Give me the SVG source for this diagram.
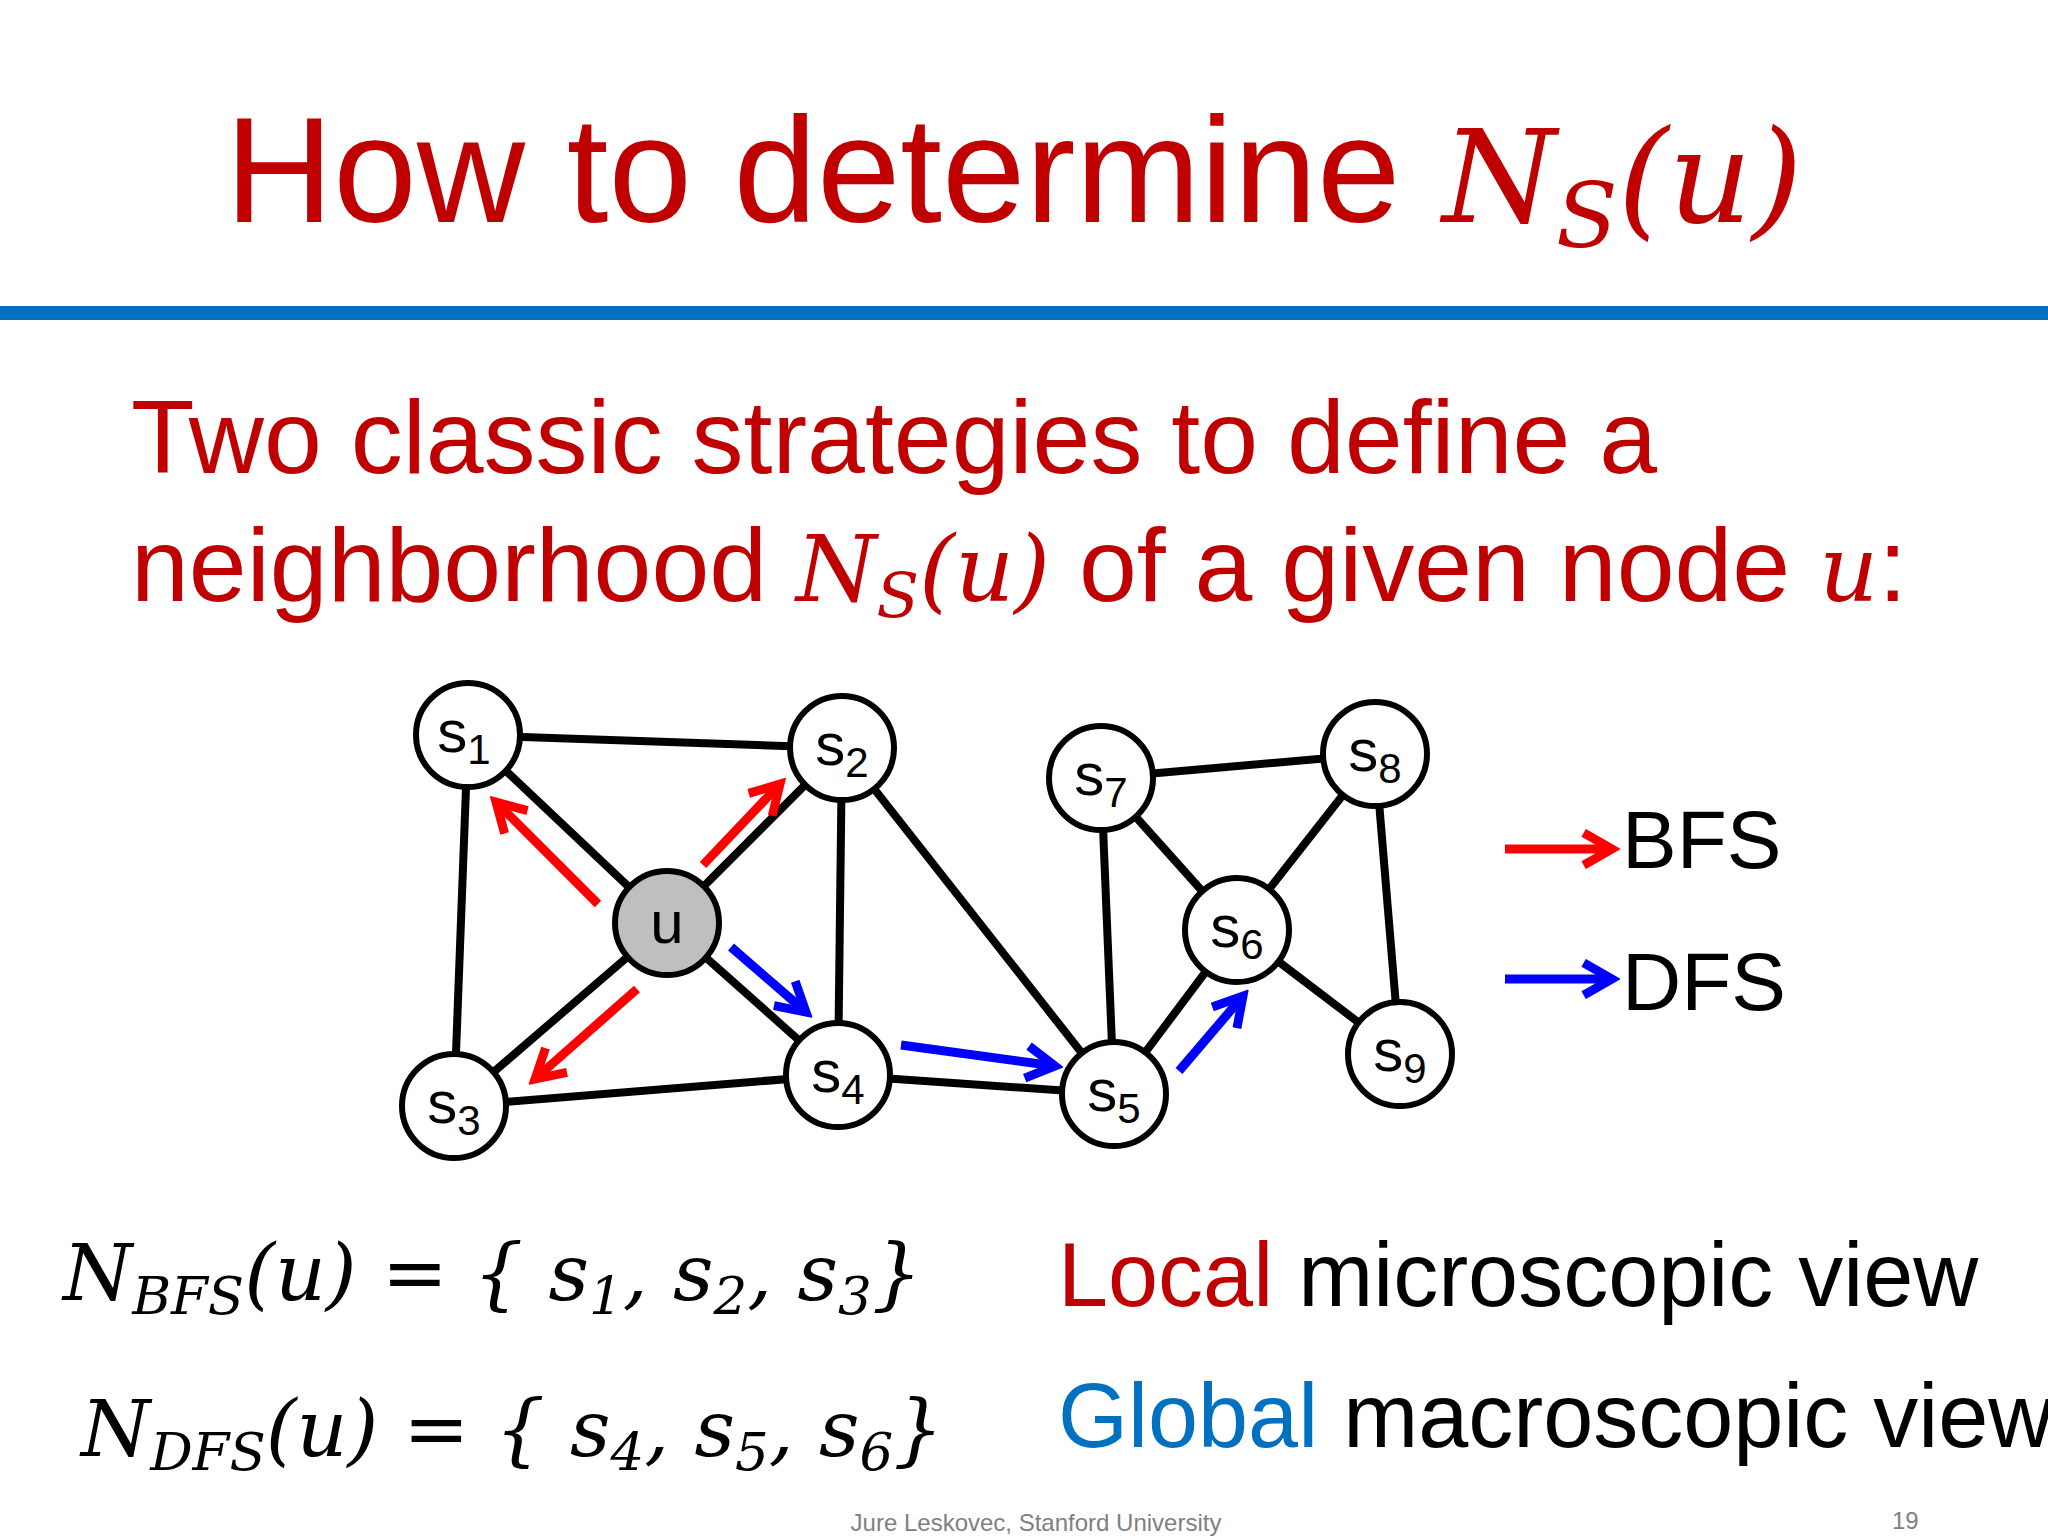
<svg xmlns="http://www.w3.org/2000/svg" width="2048" height="1536" viewBox="0 0 2048 1536">
<defs>
<style>
.t{font-family:"Liberation Sans",Arial,sans-serif}
.m{font-family:"DejaVu Serif","Liberation Serif",serif;font-style:italic}
.e line{stroke:#000;stroke-width:8}
.n circle{fill:#fff;stroke:#000;stroke-width:6}
.n text{font-family:"Liberation Sans",Arial,sans-serif;font-size:60px;text-anchor:middle}
.r{stroke:#f00;stroke-width:9;fill:none}
.b{stroke:#00f;stroke-width:9;fill:none}
</style>
<marker id="mr" viewBox="0 0 10 10" refX="8" refY="5" markerWidth="4.5" markerHeight="4.5" orient="auto" markerUnits="strokeWidth"><polyline points="1,1 8,5 1,9" fill="none" stroke="#f00" stroke-width="2.2"/></marker>
<marker id="mb" viewBox="0 0 10 10" refX="8" refY="5" markerWidth="4.5" markerHeight="4.5" orient="auto" markerUnits="strokeWidth"><polyline points="1,1 8,5 1,9" fill="none" stroke="#00f" stroke-width="2.2"/></marker>
</defs>
<rect width="2048" height="1536" fill="#fff"/>
<text class="t" x="225" y="222" font-size="150" fill="#c00000">How to determine <tspan class="m" font-size="130">N</tspan><tspan class="m" font-size="90" dy="25">S</tspan><tspan class="m" font-size="130" dy="-25">(u)</tspan></text>
<rect x="0" y="306" width="2048" height="14" fill="#0070c0"/>
<text class="t" x="131" y="473" font-size="104" fill="#c00000">Two classic strategies to define a</text>
<text class="t" x="131" y="601" font-size="104" fill="#c00000">neighborhood <tspan class="m" font-size="92">N</tspan><tspan class="m" font-size="62" dy="16">S</tspan><tspan class="m" font-size="92" dy="-16">(u)</tspan> of a given node <tspan class="m" font-size="92">u</tspan>:</text>
<g id="edges" class="e">
<line x1="468" y1="735" x2="842" y2="748"/><line x1="468" y1="735" x2="667" y2="923"/><line x1="468" y1="735" x2="454" y2="1106"/>
<line x1="667" y1="923" x2="842" y2="748"/><line x1="667" y1="923" x2="454" y2="1106"/><line x1="667" y1="923" x2="838" y2="1075"/>
<line x1="842" y1="748" x2="838" y2="1075"/><line x1="842" y1="748" x2="1114" y2="1094"/><line x1="454" y1="1106" x2="838" y2="1075"/>
<line x1="838" y1="1075" x2="1114" y2="1094"/><line x1="1101" y1="778" x2="1375" y2="754"/><line x1="1101" y1="778" x2="1237" y2="930"/>
<line x1="1101" y1="778" x2="1114" y2="1094"/><line x1="1375" y1="754" x2="1237" y2="930"/><line x1="1375" y1="754" x2="1400" y2="1054"/>
<line x1="1237" y1="930" x2="1114" y2="1094"/><line x1="1237" y1="930" x2="1400" y2="1054"/>
</g>
<g id="s1" class="n"><circle cx="468" cy="735" r="52"/><text x="464" y="752">s<tspan font-size="42" dy="12">1</tspan></text></g>
<g id="s2" class="n"><circle cx="842" cy="748" r="52"/><text x="842" y="765">s<tspan font-size="42" dy="12">2</tspan></text></g>
<g id="u" class="n"><circle cx="667" cy="923" r="52" style="fill:#bfbfbf"/><text x="667" y="943">u</text></g>
<g id="s3" class="n"><circle cx="454" cy="1106" r="52"/><text x="454" y="1123">s<tspan font-size="42" dy="12">3</tspan></text></g>
<g id="s4" class="n"><circle cx="838" cy="1075" r="52"/><text x="838" y="1092">s<tspan font-size="42" dy="12">4</tspan></text></g>
<g id="s5" class="n"><circle cx="1114" cy="1094" r="52"/><text x="1114" y="1111">s<tspan font-size="42" dy="12">5</tspan></text></g>
<g id="s7" class="n"><circle cx="1101" cy="778" r="52"/><text x="1101" y="795">s<tspan font-size="42" dy="12">7</tspan></text></g>
<g id="s8" class="n"><circle cx="1375" cy="754" r="52"/><text x="1375" y="771">s<tspan font-size="42" dy="12">8</tspan></text></g>
<g id="s6" class="n"><circle cx="1237" cy="930" r="52"/><text x="1237" y="947">s<tspan font-size="42" dy="12">6</tspan></text></g>
<g id="s9" class="n"><circle cx="1400" cy="1054" r="52"/><text x="1400" y="1071">s<tspan font-size="42" dy="12">9</tspan></text></g>
<g id="arrows">
<line class="r" x1="598" y1="904" x2="496" y2="802" marker-end="url(#mr)"/>
<line class="r" x1="703" y1="865" x2="780" y2="784" marker-end="url(#mr)"/>
<line class="r" x1="637" y1="989" x2="535" y2="1079" marker-end="url(#mr)"/>
<line class="b" x1="731" y1="947" x2="806" y2="1012" marker-end="url(#mb)"/>
<line class="b" x1="901" y1="1045" x2="1055" y2="1066" marker-end="url(#mb)"/>
<line class="b" x1="1179" y1="1071" x2="1243" y2="996" marker-end="url(#mb)"/>
<line class="r" x1="1505" y1="849" x2="1612" y2="849" marker-end="url(#mr)"/>
<line class="b" x1="1505" y1="979" x2="1612" y2="979" marker-end="url(#mb)"/>
</g>
<text class="t" x="1622" y="868" font-size="82">BFS</text>
<text class="t" x="1622" y="1010" font-size="82">DFS</text>
<text class="m" x="63" y="1300" font-size="79">N<tspan font-size="53" dy="14">BFS</tspan><tspan dy="-14">(u) = { s</tspan><tspan font-size="53" dy="14">1</tspan><tspan dy="-14">, s</tspan><tspan font-size="53" dy="14">2</tspan><tspan dy="-14">, s</tspan><tspan font-size="53" dy="14">3</tspan><tspan dy="-14">}</tspan></text>
<text class="m" x="81" y="1456" font-size="79">N<tspan font-size="53" dy="14">DFS</tspan><tspan dy="-14">(u) = { s</tspan><tspan font-size="53" dy="14">4</tspan><tspan dy="-14">, s</tspan><tspan font-size="53" dy="14">5</tspan><tspan dy="-14">, s</tspan><tspan font-size="53" dy="14">6</tspan><tspan dy="-14">}</tspan></text>
<text class="t" x="1058" y="1306" font-size="90"><tspan fill="#c00000">Local</tspan> microscopic view</text>
<text class="t" x="1058" y="1447" font-size="90"><tspan fill="#0070c0">Global</tspan> macroscopic view</text>
<text class="t" x="1036" y="1531" font-size="24" fill="#808080" text-anchor="middle">Jure Leskovec, Stanford University</text>
<text class="t" x="1892" y="1529" font-size="24" fill="#808080">19</text>
</svg>
